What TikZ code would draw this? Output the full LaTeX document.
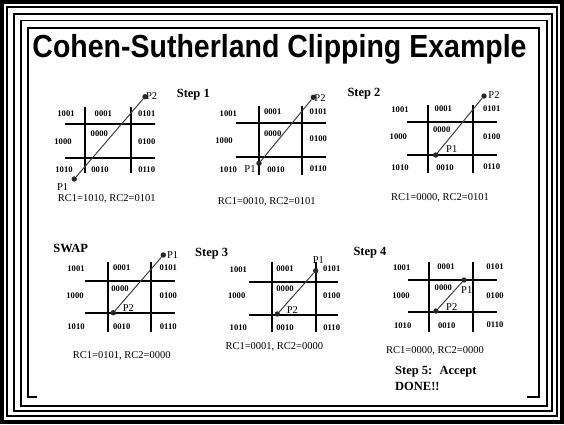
\documentclass[tikz,border=0pt]{standalone}
\usepackage{fontspec}
\setmainfont{Liberation Serif}
\newfontfamily\headfont{Liberation Sans}

% grid of the nine region codes: #1,#2 vertical lines, #3,#4 horizontal lines,
% #5,#6 horizontal extent, #7,#8 vertical extent
\newcommand\csgrid[8]{%
  \draw[gridline] (#1,#7) -- (#1,#8) (#2,#7) -- (#2,#8)
                  (#5,#3) -- (#6,#3) (#5,#4) -- (#6,#4);}

\begin{document}
\begin{tikzpicture}[x=1pt,y=-1pt,
  frameline/.style={line width=1.7pt},
  gridline/.style={line width=1.8pt},
  code/.style={font=\fontsize{8.6}{9}\selectfont\bfseries, inner sep=0pt},
  ptlabel/.style={font=\fontsize{10.5}{12}\selectfont, inner sep=0pt},
  rclabel/.style={font=\fontsize{10.5}{12}\selectfont, inner sep=0pt},
  steplabel/.style={font=\fontsize{12.5}{14}\selectfont\bfseries, inner sep=0pt},
  endpt/.style={circle, fill=black!85, inner sep=0pt, minimum size=5.4pt},
  segment/.style={draw=black!75, line width=1pt}]

\useasboundingbox (0,0) rectangle (564,424);

% ---- slide frame ----
\draw[line width=3.6pt] (2,2) rectangle (562,422);
\draw[frameline] (7,7) rectangle (557,416);
\draw[frameline] (14,14) rectangle (552,411);
\draw[frameline] (21,20.5) rectangle (547,406);
\draw[frameline] (37,397) -- (28,397) -- (28,28) -- (539,28) -- (539,397) -- (527,397);

% ---- title ----
\node[font=\headfont\fontsize{28.5}{30}\selectfont\bfseries, inner sep=0pt, anchor=base]
  (title) at (279.5,57.5) {\scalebox{1}[1.12]{Cohen-Sutherland Clipping Example}};

% ---- panel A: initial line ----
\csgrid{85}{130.7}{124.3}{157.7}{65}{155}{106.7}{173}
\foreach \t/\x/\y in {1001/66/113.3, 0001/103.3/113.3, 0101/146.7/113.3,
                      1000/63/141.7, 0000/99.3/133.3, 0100/146.7/141.7,
                      1010/64/169.3, 0010/100/169.3, 0110/146.7/169.3}
  \node[code] (A-\t) at (\x,\y) {\t};
\node[endpt] (A-p1) at (74.3,179) {};
\node[endpt] (A-p2) at (145,96.7) {};
\draw[segment] (A-p1) -- (A-p2);
\node[ptlabel] (A-l1) at (62.7,186.7) {P1};
\node[ptlabel] (A-l2) at (151.7,96) {P2};
\node[rclabel] (A-rc) at (106.7,199.3) {RC1=1010, RC2=0101};
\node[steplabel] (s1) at (193.3,95) {Step 1};

% ---- panel B: P1 moved to left edge ----
\csgrid{259}{301.7}{123.3}{157.3}{235.7}{326}{106}{175}
\foreach \t/\x/\y in {1001/228.3/113.3, 0001/272.7/111.7, 0101/318.3/111.7,
                      1000/224/140.7, 0000/272.7/134, 0100/318.3/138.3,
                      1010/228.3/169.3, 0010/276/169.3, 0110/318.3/168.3}
  \node[code] (B-\t) at (\x,\y) {\t};
\node[endpt] (B-p1) at (259,163.3) {};
\node[endpt] (B-p2) at (313.3,97.3) {};
\draw[segment] (B-p1) -- (B-p2);
\node[ptlabel] (B-l1) at (250,169.3) {P1};
\node[ptlabel] (B-l2) at (320,98.3) {P2};
\node[rclabel] (B-rc) at (266.7,201.7) {RC1=0010, RC2=0101};

% ---- panel C: P1 moved to bottom edge ----
\node[steplabel] (s2) at (364,94) {Step 2};
\csgrid{428.3}{472.7}{121.7}{155}{406.7}{496.7}{105}{173.3}
\foreach \t/\x/\y in {1001/400/109.3, 0001/443.3/108.3, 0101/491.7/108.3,
                      1000/398.3/136.7, 0000/441.7/129.3, 0100/491.7/136.7,
                      1010/400/167.3, 0010/445/167.3, 0110/491.7/166.7}
  \node[code] (C-\t) at (\x,\y) {\t};
\node[endpt] (C-p1) at (435.7,155) {};
\node[endpt] (C-p2) at (484,96) {};
\draw[segment] (C-p1) -- (C-p2);
\node[ptlabel] (C-l1) at (451.7,149.3) {P1};
\node[ptlabel] (C-l2) at (494,95) {P2};
\node[rclabel] (C-rc) at (440,198.3) {RC1=0000, RC2=0101};

% ---- panel D: swap of end points ----
\node[steplabel] (sw) at (70.7,248.3) {SWAP};
\csgrid{108.3}{151}{280.7}{313.3}{85}{175}{261.7}{331.7}
\foreach \t/\x/\y in {1001/76/268.3, 0001/121.7/267.3, 0101/168.3/267.3,
                      1000/75/296, 0000/120/288.3, 0100/168.3/296,
                      1010/76/326.7, 0010/121.7/326.7, 0110/168.3/326.7}
  \node[code] (D-\t) at (\x,\y) {\t};
\node[endpt] (D-p1) at (163.3,255) {};
\node[endpt] (D-p2) at (113.3,312.7) {};
\draw[segment] (D-p2) -- (D-p1);
\node[ptlabel] (D-l1) at (172.7,255) {P1};
\node[ptlabel] (D-l2) at (128.3,308.3) {P2};
\node[rclabel] (D-rc) at (121.7,356) {RC1=0101, RC2=0000};

% ---- panel E: P1 moved to right edge ----
\node[steplabel] (s3) at (211.7,254) {Step 3};
\csgrid{271.7}{315.7}{281.7}{315}{249.3}{338.3}{261.7}{331.7}
\foreach \t/\x/\y in {1001/238.3/269.3, 0001/285/268.3, 0101/331.7/268.3,
                      1000/236.7/296, 0000/285/288.3, 0100/331.7/296,
                      1010/238.3/327.3, 0010/285/327.3, 0110/331.7/327.3}
  \node[code] (E-\t) at (\x,\y) {\t};
\node[endpt] (E-p1) at (315.7,270.7) {};
\node[endpt] (E-p2) at (277.3,314) {};
\draw[segment] (E-p2) -- (E-p1);
\node[ptlabel] (E-l1) at (318.3,260) {P1};
\node[ptlabel] (E-l2) at (292.3,310) {P2};
\node[rclabel] (E-rc) at (274.3,347.3) {RC1=0001, RC2=0000};

% ---- panel F: P1 moved to top edge ----
\node[steplabel] (s4) at (370,252.7) {Step 4};
\csgrid{429.3}{473.3}{280}{312.3}{407.7}{496.7}{261.7}{331.7}
\foreach \t/\x/\y in {1001/401.7/267.3, 0001/446/266.7, 0101/495/266.7,
                      1000/401/295.7, 0000/443.3/287.7, 0100/495/295.7,
                      1010/402.7/326, 0010/446.7/326, 0110/495/325}
  \node[code] (F-\t) at (\x,\y) {\t};
\node[endpt] (F-p1) at (464,280) {};
\node[endpt] (F-p2) at (436,311) {};
\draw[segment] (F-p2) -- (F-p1);
\node[ptlabel] (F-l1) at (466.7,290) {P1};
\node[ptlabel] (F-l2) at (451.7,307.3) {P2};
\node[rclabel] (F-rc) at (435,350.7) {RC1=0000, RC2=0000};
\node[steplabel, anchor=west] (s5) at (395,371.7) {Step 5:~ Accept};
\node[steplabel, anchor=west] (done) at (395,386.7) {DONE!!};

\end{tikzpicture}
\end{document}
